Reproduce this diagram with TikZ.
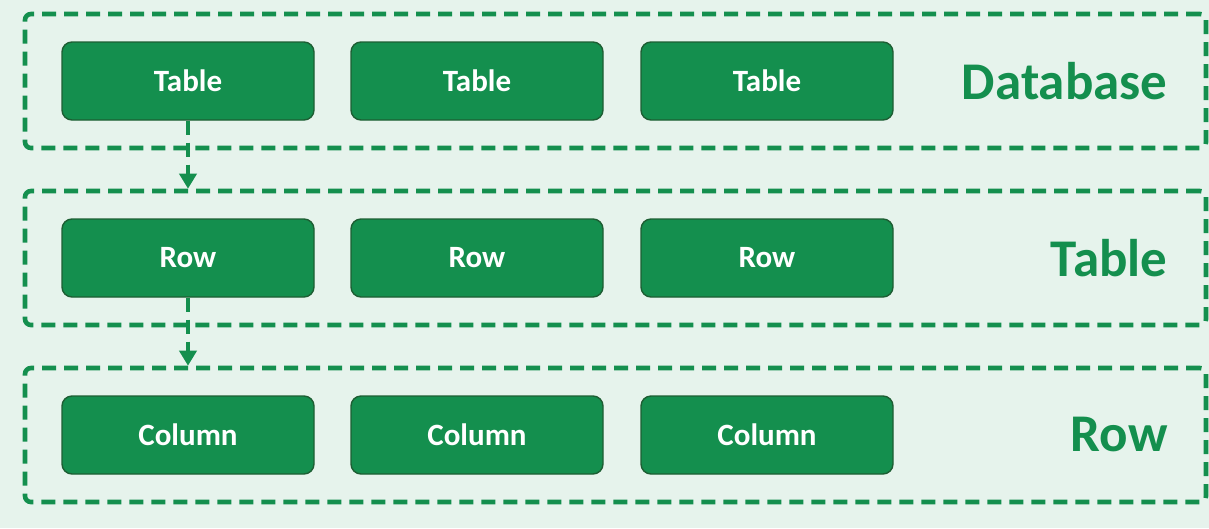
\documentclass[tikz,border=0pt]{standalone}
\usepackage{fontspec}
\setmainfont{Carlito}
\usepackage{xcolor}
\usetikzlibrary{arrows.meta, positioning}
\definecolor{bgmint}{HTML}{E6F3EC}
\definecolor{dbgreen}{HTML}{148F4E}
\definecolor{dbedge}{HTML}{1D5E33}
\begin{document}
\begin{tikzpicture}[x=1pt, y=-1pt,
  item/.style={draw=dbedge, line width=1.4pt, fill=dbgreen, rounded corners=10pt,
    minimum width=252pt, minimum height=78pt, text=white,
    font=\fontsize{31}{36}\selectfont\bfseries},
  layer/.style={draw=dbgreen, line width=4.6pt, dash pattern=on 14pt off 8pt,
    rounded corners=6pt, minimum width=1181pt, minimum height=134pt},
  lvl/.style={anchor=east, text=dbgreen, font=\fontsize{53}{60}\selectfont\bfseries},
  down/.style={dbgreen, line width=4.6pt, dash pattern=on 14pt off 8pt,
    -{Triangle[length=15pt, width=17pt]}}]
%%── Background ───────────────────────────────────────────
\fill[bgmint] (0,0) rectangle (1209,528);
\useasboundingbox (0,0) rectangle (1209,528);
%%── Dashed layer frames ──────────────────────────────────
\node[layer] (dbL)  at (615.5, 81) {};
\node[layer] (tblL) at (615.5,258) {};
\node[layer] (rowL) at (615.5,435) {};
%%── Layer names ──────────────────────────────────────────
\node[lvl] (dbN)  at (1171, 81) {Database};
\node[lvl] (tblN) at (1171,258) {Table};
\node[lvl] (rowN) at (1171,435) {Row};
%%── Items in each layer ──────────────────────────────────
\foreach \i/\x in {1/188,2/477,3/767} {
  \node[item] (tab\i) at (\x, 81) {Table};
  \node[item] (row\i) at (\x,258) {Row};
  \node[item] (col\i) at (\x,435) {Column};
}
%%── Drill-down arrows ────────────────────────────────────
\draw[down] (tab1.south) -- (tab1.south |- tblL.north);
\draw[down] (row1.south) -- (row1.south |- rowL.north);
\end{tikzpicture}
\end{document}
